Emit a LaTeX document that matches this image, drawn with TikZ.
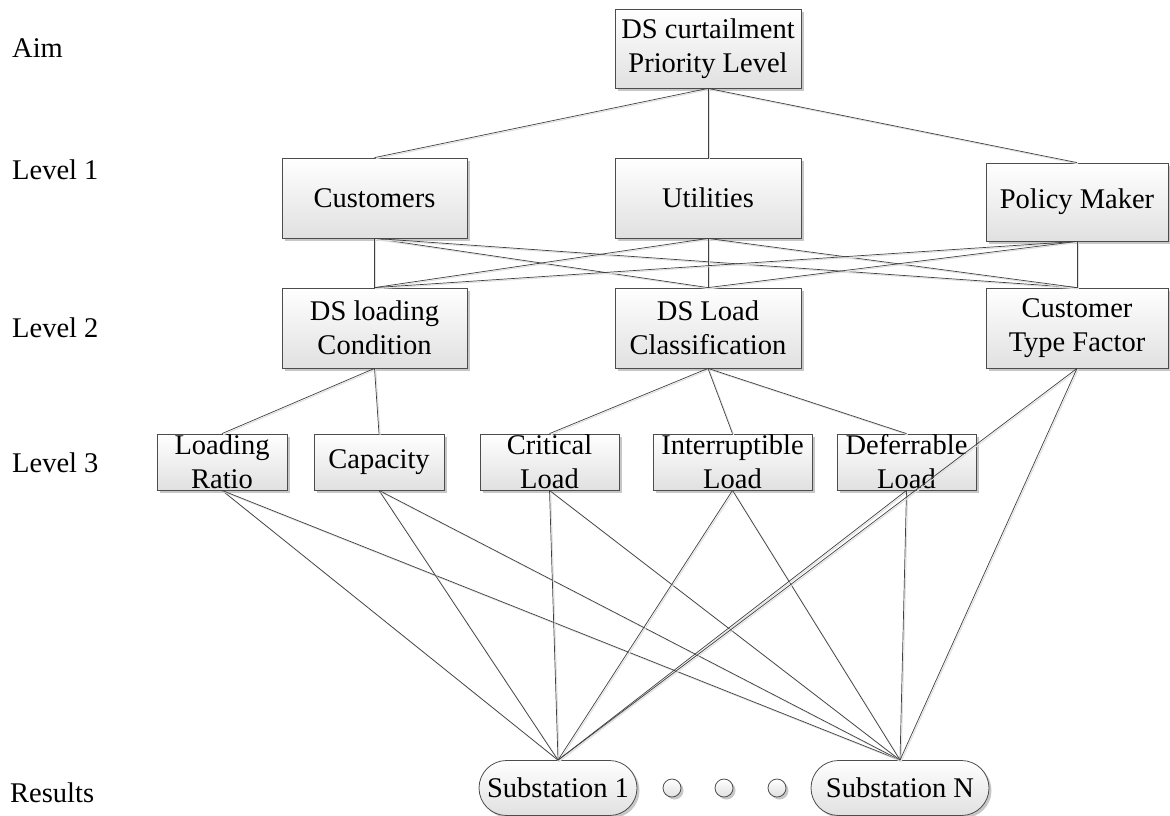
\documentclass[tikz,border=0pt]{standalone}
\usepackage{fontspec}
\setmainfont{Liberation Serif}
\usetikzlibrary{shapes.misc,shadows}
\begin{document}
\begin{tikzpicture}[x=1pt,y=-1pt,
  every node/.style={font=\fontsize{28.5}{34}\selectfont, inner sep=0pt, text=black},
  boxfill/.style={draw=black!70, line width=0.8pt, top color=white, bottom color=black!12,
    drop shadow={shadow xshift=2.5pt, shadow yshift=-2.5pt, fill=black!22, opacity=1}},
  box/.style={boxfill, rectangle, align=center},
  subbox/.style={boxfill, rounded rectangle, minimum height=55, align=center},
  dotc/.style={boxfill, circle, minimum size=18},
  lvl/.style={anchor=west},
  conn/.style={draw=black!75, line width=0.7pt,
    preaction={draw=black!12, line width=1pt, transform canvas={xshift=1.2pt, yshift=-1.2pt}}}
]
\useasboundingbox (0,0) rectangle (1170,815);

% level labels
\node[lvl] (lAim) at (12,48) {Aim};
\node[lvl] (lL1) at (12,170) {Level 1};
\node[lvl] (lL2) at (12,328) {Level 2};
\node[lvl] (lL3) at (12,463) {Level 3};
\node[lvl] (lRes) at (10,793) {Results};

% aim
\node[box, minimum width=186, minimum height=79] (aim) at (708,48.5) {DS curtailment\\Priority Level};

% level 1
\node[box, minimum width=185, minimum height=80] (cust) at (374.5,198) {Customers};
\node[box, minimum width=186, minimum height=80] (util) at (708,198) {Utilities};
\node[box, minimum width=182, minimum height=78] (pol) at (1077,202) {Policy Maker};

% level 2
\node[box, minimum width=185, minimum height=80] (dsl) at (374.5,328) {DS loading\\Condition};
\node[box, minimum width=186, minimum height=80] (dsc) at (708,328) {DS Load\\Classification};
\node[box, minimum width=182, minimum height=80] (ctf) at (1077,328) {Customer\\Type Factor};

% level 3
\node[box, minimum width=130, minimum height=56, label={[align=center]center:Loading\\Ratio}] (lr) at (222,462) {};
\node[box, minimum width=130, minimum height=56] (cap) at (379,462) {Capacity};
\node[box, minimum width=139, minimum height=56, label={[align=center]center:Critical\\Load}] (crit) at (549.5,462) {};
\node[box, minimum width=159, minimum height=56, label={[align=center]center:Interruptible\\Load}] (intr) at (732.5,462) {};
\node[box, minimum width=139, minimum height=56, label={[align=center]center:Deferrable\\Load}] (defr) at (906.5,462) {};

% results
\node[subbox, minimum width=158] (s1) at (558,788) {Substation 1};
\node[dotc] (d1) at (672,788) {};
\node[dotc] (d2) at (724,788) {};
\node[dotc] (d3) at (777,788) {};
\node[subbox, minimum width=178] (sN) at (900,788) {Substation N};

% connectors
\foreach \b in {cust,util,pol}
  \draw[conn] (aim.south) -- (\b.north);
\foreach \a in {cust,util,pol}
  \foreach \b in {dsl,dsc,ctf}
    \draw[conn] (\a.south) -- (\b.north);
\foreach \b in {lr,cap}
  \draw[conn] (dsl.south) -- (\b.north);
\foreach \b in {crit,intr,defr}
  \draw[conn] (dsc.south) -- (\b.north);
\foreach \a in {lr,cap,crit,intr,defr,ctf}
  \foreach \b in {s1,sN}
    \draw[conn] (\a.south) -- (\b.north);
\end{tikzpicture}
\end{document}
